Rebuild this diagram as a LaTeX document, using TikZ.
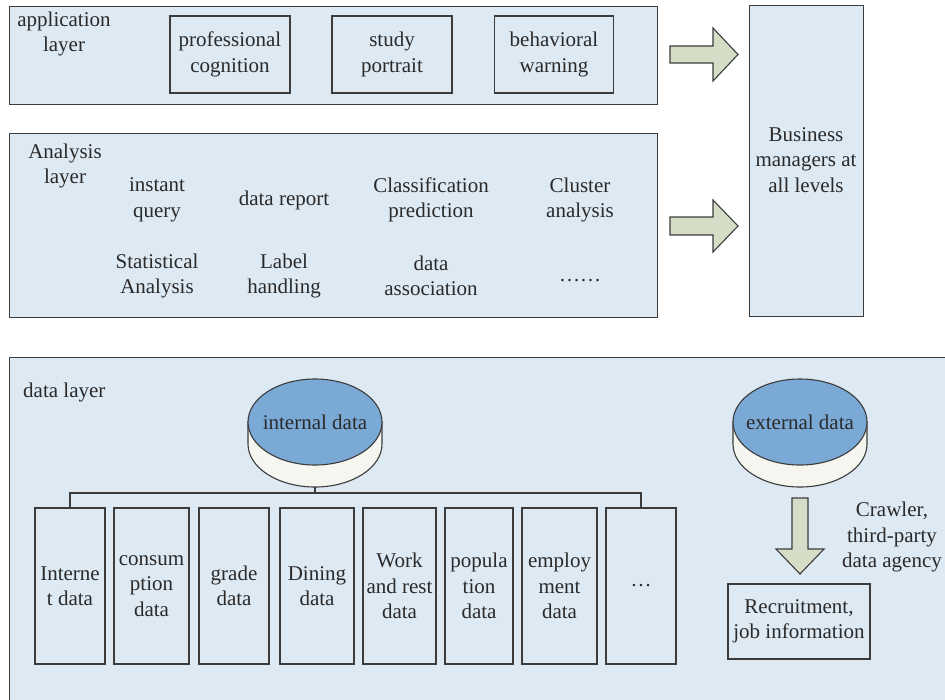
\documentclass[tikz,border=0pt]{standalone}
\usepackage{fontspec}
\setmainfont{Liberation Serif}
\definecolor{layerfill}{HTML}{DDE9F3}
\definecolor{edge}{HTML}{3C3C3C}
\definecolor{disktop}{HTML}{7BA9D6}
\definecolor{diskside}{HTML}{F4F6EF}
\definecolor{arrowfill}{HTML}{D4DEC7}
\definecolor{ink}{HTML}{2A2A2A}
\tikzset{
  layer/.style={draw=edge, fill=layerfill, line width=1.1pt, rectangle, inner sep=0pt, anchor=north west},
  itembox/.style={draw=edge, line width=1.1pt, rectangle, align=center, inner sep=0pt},
  lbl/.style={align=center, inner sep=0pt},
  blockarrow/.style={draw=edge, fill=arrowfill, line width=1.1pt, line join=miter},
  link/.style={draw=edge, line width=1.1pt},
  disk/.pic={
    \path[draw=edge, fill=diskside, line width=1.1pt]
      (-67,0) -- (-67,22) arc[start angle=180, end angle=360, x radius=67pt, y radius=43pt]
      -- (67,0) -- cycle;
    \path[draw=edge, fill=disktop, line width=1.1pt] (0,0) ellipse [x radius=67pt, y radius=43pt];
    \node[inner sep=0pt] (-top) at (0,0) {#1};
    \coordinate (-bot) at (0,65);
  }
}
\begin{document}
\begin{tikzpicture}[x=1pt, y=-1pt, font=\fontsize{21}{25.5}\selectfont, text=ink]
\useasboundingbox (0,0) rectangle (945,699);

% layers
\node[layer, minimum width=648pt, minimum height=98pt] (app) at (9,6) {};
\node[layer, minimum width=648pt, minimum height=184pt] (ana) at (9,133) {};
\node[layer, minimum width=950pt, minimum height=350pt] (data) at (9,357) {};
\node[layer, minimum width=114pt, minimum height=311pt] (biz) at (749,5) {};

% application layer
\node[lbl] (applbl) at (64,34) {application\\layer};
\node[itembox, minimum width=120pt, minimum height=77pt] (prof) at (230,54.5) {professional\\cognition};
\node[itembox, minimum width=120pt, minimum height=77pt] (study) at (392,54.5) {study\\portrait};
\node[itembox, minimum width=119pt, minimum height=77pt] (behav) at (554,54.5) {behavioral\\warning};

% analysis layer
\node[lbl] (analbl) at (65,166) {Analysis\\layer};
\node[lbl] (q1) at (157,200) {instant\\query};
\node[lbl] (q2) at (284,200) {data report};
\node[lbl] (q3) at (431,200) {Classification\\prediction};
\node[lbl] (q4) at (580,200) {Cluster\\analysis};
\node[lbl] (q5) at (157,276) {Statistical\\Analysis};
\node[lbl] (q6) at (284,276) {Label\\handling};
\node[lbl] (q7) at (431,276) {data\\association};
\node[lbl] (q8) at (580,281) {……};

% managers
\node[lbl] (bizlbl) at (806,160) {Business\\managers at\\all levels};

% block arrows into the managers column
\draw[blockarrow] (670,46) -- (713,46) -- (713,28) -- (738,54.5) -- (713,81) -- (713,63) -- (670,63) -- cycle;
\draw[blockarrow] (670,217) -- (713,217) -- (713,200) -- (738,226) -- (713,252) -- (713,235) -- (670,235) -- cycle;

% data layer
\node[lbl, anchor=west] (datalbl) at (23,392) {data layer};
\pic (int) at (315,422) {disk={internal data}};
\pic (ext) at (800,422) {disk={external data}};

\node[itembox, minimum width=70pt, minimum height=156pt] (b1) at (70,586) {Interne\\t data};
\node[itembox, minimum width=75pt, minimum height=156pt] (b2) at (151.5,586) {consum\\ption\\data};
\node[itembox, minimum width=70pt, minimum height=156pt] (b3) at (234,586) {grade\\data};
\node[itembox, minimum width=74pt, minimum height=156pt] (b4) at (317,586) {Dining\\data};
\node[itembox, minimum width=73pt, minimum height=156pt] (b5) at (399.5,586) {Work\\and rest\\data};
\node[itembox, minimum width=68pt, minimum height=156pt] (b6) at (479,586) {popula\\tion\\data};
\node[itembox, minimum width=75pt, minimum height=156pt] (b7) at (559.5,586) {employ\\ment\\data};
\node[itembox, minimum width=70pt, minimum height=156pt] (b8) at (641,586) {…};

% bus from the internal store to the data categories
\coordinate (bus) at (315,493);
\draw[link] (int-bot) -- (bus);
\draw[link] (b1.north) |- (bus) -| (b8.north);

% external data path
\draw[blockarrow] (792,498) -- (808,498) -- (808,549) -- (824,549) -- (800,574) -- (776,549) -- (792,549) -- cycle;
\node[lbl] (crawl) at (892,537) {Crawler,\\third-party\\data agency};
\node[itembox, minimum width=142pt, minimum height=75pt] (recruit) at (799,621.5) {Recruitment,\\job information};
\end{tikzpicture}
\end{document}
